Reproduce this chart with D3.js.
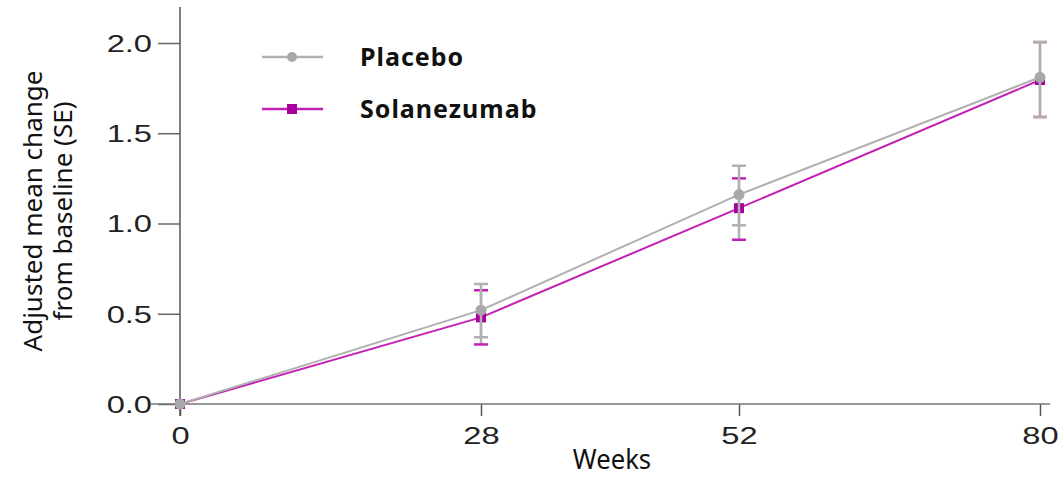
<!DOCTYPE html>
<html>
<head>
<meta charset="utf-8">
<script src="https://cdn.jsdelivr.net/npm/d3@7"></script>
<style>
  html, body { margin: 0; padding: 0; background: #ffffff; }
  svg { display: block; }
</style>
</head>
<body>
<svg id="chart" width="1064" height="477"></svg>
<script>
const weeks = [0, 28, 52, 80];
const xTicks = [0, 28, 52, 80];
const yTicks = [0.0, 0.5, 1.0, 1.5, 2.0];

const placeboMean  = [0, 0.52, 1.16, 1.81];
const placeboUpper = [0, 0.665, 1.32, 2.005];
const placeboLower = [0, 0.37, 0.99, 1.59];

const solaMean  = [0, 0.48, 1.085, 1.795];
const solaUpper = [0, 0.63, 1.25, 2.005];
const solaLower = [0, 0.33, 0.91, 1.59];

const seriesNames = ["Placebo", "Solanezumab"];

const svg = d3.select("#chart");
const x = d3.scaleLinear().domain([0, 80]).range([180, 1040]);
const y = d3.scaleLinear().domain([0, 2]).range([404, 43]);

const gray = "#b0b0b2";
const magLine = "#c420b4";
const magMark = "#a8009e";
const stretch = 1.42;

// y axis
const yAxis = d3.axisLeft(y).tickValues(yTicks).tickFormat(d3.format(".1f")).tickSize(22).tickPadding(6);
const gy = svg.append("g").attr("transform", "translate(180,0)").call(yAxis);
gy.select(".domain").remove();
gy.selectAll(".tick line").attr("stroke", "#666").attr("stroke-width", 1.5);
gy.selectAll(".tick text").attr("font-family", "Liberation Sans, Arial, sans-serif").attr("font-size", 23).attr("fill", "#222")
  .attr("dy", "0.36em").attr("x", -28 / stretch).attr("transform", `scale(${stretch},1)`);
svg.append("line").attr("x1", 180).attr("x2", 180).attr("y1", 7).attr("y2", 416).attr("stroke", "#555").attr("stroke-width", 1.5);

// x axis
const xAxis = d3.axisBottom(x).tickValues(xTicks).tickFormat(d3.format("d")).tickSize(12).tickPadding(12);
const gx = svg.append("g").attr("transform", "translate(0,404)").call(xAxis);
gx.select(".domain").remove();
gx.selectAll(".tick line").attr("stroke", "#555").attr("stroke-width", 1.5);
gx.selectAll(".tick text").attr("font-family", "Liberation Sans, Arial, sans-serif").attr("font-size", 23).attr("fill", "#222")
  .attr("transform", `scale(${stretch},1)`);
svg.append("line").attr("x1", 150).attr("x2", 1050).attr("y1", 404).attr("y2", 404).attr("stroke", "#777").attr("stroke-width", 1.5);

// axis titles
svg.append("text").attr("x", 612).attr("y", 469).attr("text-anchor", "middle")
  .attr("font-family", "Noto Sans, sans-serif").attr("font-size", 27).attr("fill", "#111")
  .attr("transform", "translate(612,469) scale(0.95,1) translate(-612,-469)")
  .text("Weeks");
const yl = svg.append("text").attr("transform", "translate(42,211) rotate(-90)").attr("text-anchor", "middle")
  .attr("font-family", "Noto Sans, sans-serif").attr("font-size", 26).attr("fill", "#111");
yl.append("tspan").attr("x", 0).attr("dy", 0).text("Adjusted mean change");
yl.append("tspan").attr("x", 0).attr("dy", 30).text("from baseline (SE)");

function drawSeries(mean, upper, lower, lineColor, capColor, markColor, shape) {
  const data = weeks.map((w, i) => ({w, m: mean[i], u: upper[i], l: lower[i]}));
  const g = svg.append("g");
  g.append("path").datum(data)
    .attr("fill", "none").attr("stroke", lineColor).attr("stroke-width", 2)
    .attr("d", d3.line().x(d => x(d.w)).y(d => y(d.m)));
  const eb = data.filter(d => d.u !== d.l);
  g.selectAll(".err").data(eb).enter().append("line")
    .attr("x1", d => x(d.w)).attr("x2", d => x(d.w))
    .attr("y1", d => y(d.u)).attr("y2", d => y(d.l))
    .attr("stroke", gray).attr("stroke-width", 2.5);
  ["u", "l"].forEach(k => {
    g.selectAll(".cap" + k).data(eb).enter().append("line")
      .attr("x1", d => x(d.w) - 7).attr("x2", d => x(d.w) + 7)
      .attr("y1", d => y(d[k])).attr("y2", d => y(d[k]))
      .attr("stroke", capColor).attr("stroke-width", 2.5);
  });
  if (shape === "circle") {
    g.selectAll(".pt").data(data).enter().append("circle")
      .attr("cx", d => x(d.w)).attr("cy", d => y(d.m)).attr("r", 5.5).attr("fill", markColor);
  } else {
    g.selectAll(".pt").data(data).enter().append("rect")
      .attr("x", d => x(d.w) - 5).attr("y", d => y(d.m) - 5).attr("width", 10).attr("height", 10).attr("fill", markColor);
  }
}

drawSeries(solaMean, solaUpper, solaLower, magLine, magLine, magMark, "square");
drawSeries(placeboMean, placeboUpper, placeboLower, gray, gray, "#a8a8aa", "circle");

// legend
const legendY = [57, 109];
const legendColors = [gray, magLine];
seriesNames.forEach((name, i) => {
  svg.append("line").attr("x1", 262).attr("x2", 323).attr("y1", legendY[i]).attr("y2", legendY[i])
    .attr("stroke", legendColors[i]).attr("stroke-width", 2.5);
  if (i === 0) svg.append("circle").attr("cx", 292).attr("cy", legendY[i]).attr("r", 5).attr("fill", "#a8a8aa");
  else svg.append("rect").attr("x", 287).attr("y", legendY[i] - 5).attr("width", 10).attr("height", 10).attr("fill", magMark);
  svg.append("text").attr("x", 360).attr("y", legendY[i] + 9)
    .attr("font-family", "Noto Sans, sans-serif").attr("font-weight", "bold").attr("font-size", 25)
    .attr("letter-spacing", 1).attr("fill", "#111")
    .text(name);
});
</script>
</body>
</html>
